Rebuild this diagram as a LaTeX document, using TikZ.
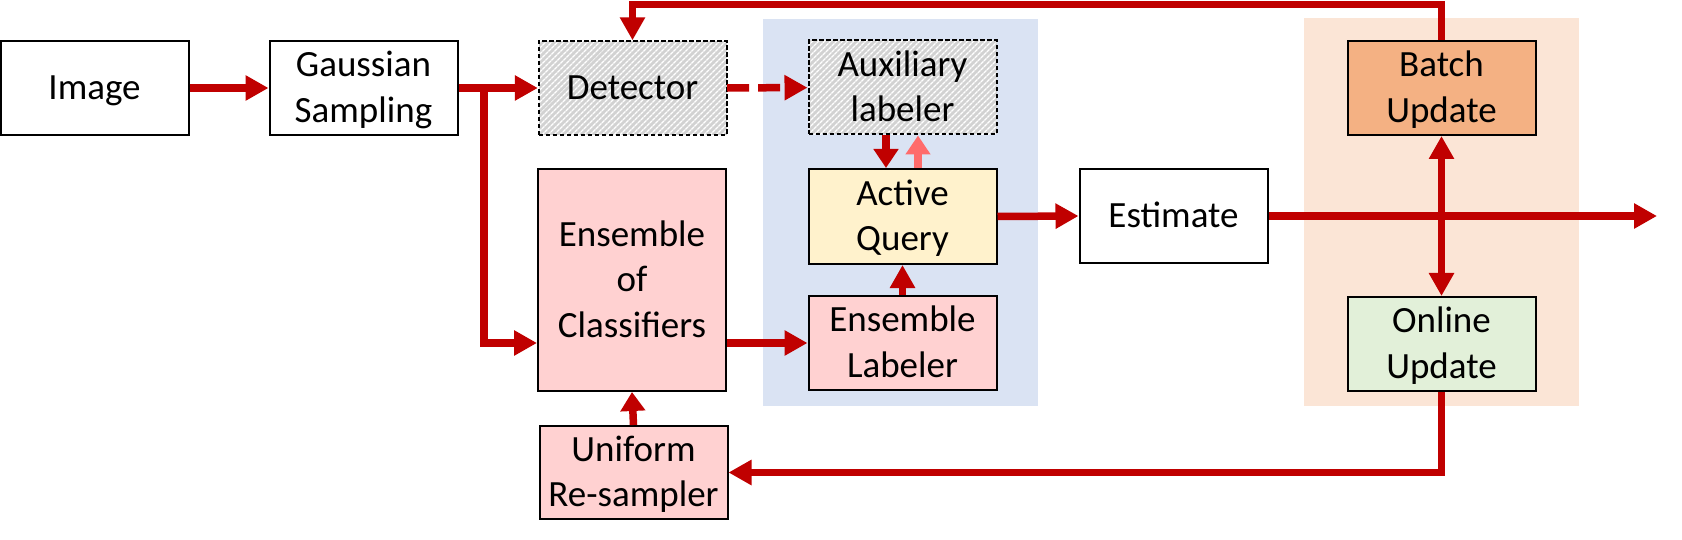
\documentclass[tikz,border=0pt]{standalone}
\usepackage{fontspec}
\setmainfont{Carlito}
\usetikzlibrary{arrows.meta,patterns.meta}
\definecolor{dred}{HTML}{C00000}
\definecolor{lred}{HTML}{FF6B6B}
\definecolor{bluebg}{HTML}{DAE3F3}
\definecolor{orbg}{HTML}{FBE5D6}
\definecolor{batchc}{HTML}{F4B183}
\definecolor{onlinec}{HTML}{E2F0D9}
\definecolor{pinkc}{HTML}{FFD1D1}
\definecolor{aqc}{HTML}{FFF2CC}
\definecolor{hatchbg}{HTML}{D2D2D2}
\newcommand\lstrut{\rule[-10.8pt]{0pt}{45pt}}
\tikzset{
  box/.style={draw=black, line width=2pt, minimum width=188pt, minimum height=94pt,
    inner sep=0pt, align=center, font=\fontsize{37}{45.5}\selectfont},
  hatchbox/.style={box, dash pattern=on 4.5pt off 2.5pt, preaction={fill=hatchbg},
    pattern={Lines[angle=45,distance=4pt,line width=1.4pt]}, pattern color=white},
  conn/.style={draw=dred, line width=7.5pt, -{Triangle[length=23pt,width=24pt]}},
  shortconn/.style={draw=dred, line width=7.5pt, -{Triangle[length=19pt,width=24pt]}},
  lightconn/.style={draw=lred, line width=7.5pt, -{Triangle[length=19pt,width=24pt]}},
  dashconn/.style={conn, dash pattern=on 22pt off 9pt},
  bothconn/.style={draw=dred, line width=7.5pt, {Triangle[length=23pt,width=24pt]}-{Triangle[length=23pt,width=24pt]}},
}
\begin{document}
\begin{tikzpicture}[x=1pt, y=-1pt]
\useasboundingbox (0,0) rectangle (1682,540);
% background regions
\fill[bluebg] (763,19) rectangle (1038,406);
\fill[orbg] (1304,18) rectangle (1579,406);
% nodes
\node[box] (img) at (94.5,88) {\lstrut Image};
\node[box] (gs) at (363.5,88) {\lstrut Gaussian\\\lstrut Sampling};
\node[hatchbox] (det) at (632.5,88) {\lstrut Detector};
\node[hatchbox] (aux) at (902.5,87.5) {\lstrut Auxiliary\\\lstrut labeler};
\node[box, fill=pinkc, minimum height=222pt] (eoc) at (632,280) {\lstrut Ensemble\\\lstrut of\\\lstrut Classifiers};
\node[box, fill=aqc, minimum height=95pt] (aq) at (902.5,216.5) {\lstrut Active\\\lstrut Query};
\node[box, fill=pinkc] (el) at (902.5,343) {\lstrut Ensemble\\\lstrut Labeler};
\node[box, fill=pinkc, minimum height=93pt] (ur) at (633.5,472.5) {\lstrut Uniform\\\lstrut Re-sampler};
\node[box] (est) at (1173.5,216) {\lstrut Estimate};
\node[box, fill=batchc] (bu) at (1441.5,88) {\lstrut Batch\\\lstrut Update};
\node[box, fill=onlinec] (ou) at (1441.5,344) {\lstrut Online\\\lstrut Update};
% helper coordinates
\coordinate (br) at (484,88);
\coordinate (top) at (0,4.5);
\coordinate (out) at (1657,216);
% connectors
\draw[conn] (img) -- (gs);
\draw[conn] (gs) -- (det);
\draw[conn] (br) |- (eoc.west |- el.west);
\draw[conn] (eoc.east |- el.west) -- (el.west);
\draw[dashconn] (det) -- (aux);
\draw[conn] (bu.north) -- (bu.north |- top) -- (det.north |- top) -- (det.north);
\draw[shortconn] ([xshift=-16.5pt]aux.south) -- ([xshift=-16.5pt]aq.north);
\draw[lightconn] ([xshift=15.5pt]aq.north) -- ([xshift=15.5pt]aux.south);
\draw[conn] (el.north) -- (aq.south);
\draw[conn] (aq.east) -- (est.west);
\draw[conn] (est.east) -- (out);
\draw[bothconn] (bu.south) -- (ou.north);
\draw[conn] (ou.south) |- (ur.east);
\draw[shortconn] (ur.north) -- (eoc.south);
\end{tikzpicture}
\end{document}
